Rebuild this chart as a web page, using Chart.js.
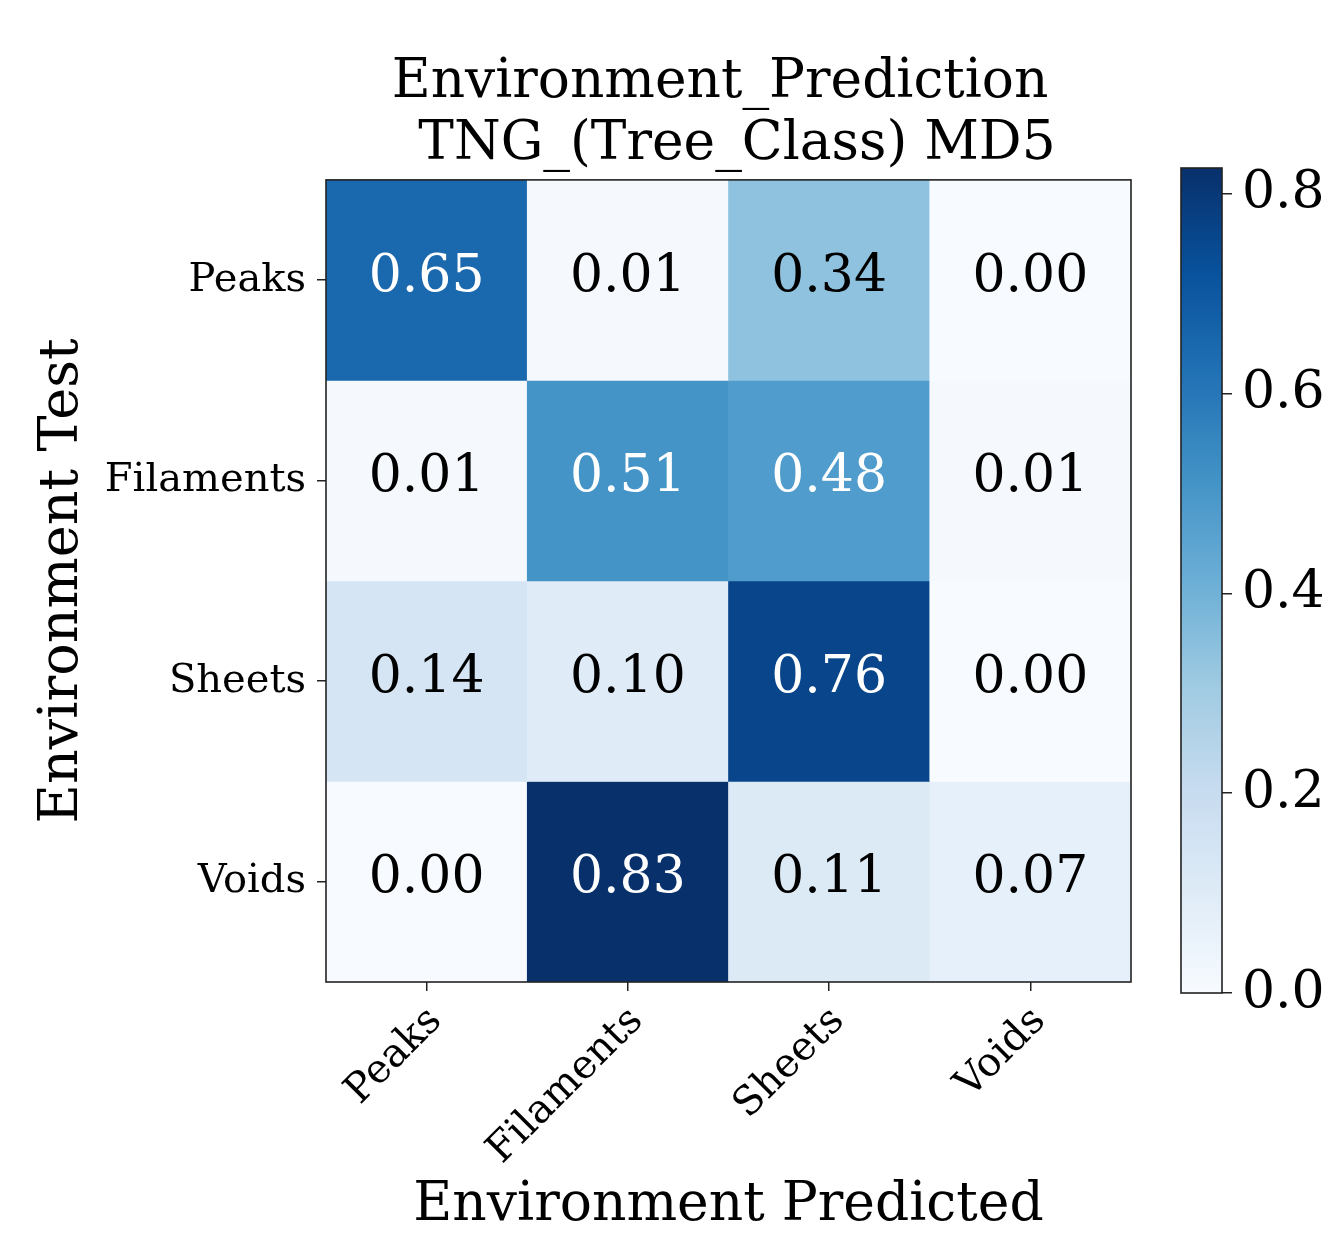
<!DOCTYPE html>
<html><head><meta charset="utf-8">
<script src="https://cdn.jsdelivr.net/npm/chart.js@4.4.1/dist/chart.umd.min.js"></script>
<style>
html,body{margin:0;padding:0;background:#fff;}
#wrap{position:relative;width:1328px;height:1233px;overflow:hidden;}
#main{position:absolute;left:0;top:0;}
#cbar{position:absolute;left:1160px;top:0;}
</style></head><body>
<div id="wrap"><canvas id="main" width="1328" height="1233"></canvas><canvas id="cbar" width="168" height="1233"></canvas></div>
<script>
// ---- data ----
const PRED_LABELS = ['Peaks', 'Filaments', 'Sheets', 'Voids'];   // x (predicted)
const TEST_LABELS = ['Peaks', 'Filaments', 'Sheets', 'Voids'];   // y (test)
const ROW_PEAKS     = [0.65, 0.01, 0.34, 0.00];
const ROW_FILAMENTS = [0.01, 0.51, 0.48, 0.01];
const ROW_SHEETS    = [0.14, 0.10, 0.76, 0.00];
const ROW_VOIDS     = [0.00, 0.83, 0.11, 0.07];
const MATRIX = [ROW_PEAKS, ROW_FILAMENTS, ROW_SHEETS, ROW_VOIDS];
const COLOR_MAX = 0.826;
const CB_TICKS = [0.0, 0.2, 0.4, 0.6, 0.8];
const TITLE_LINES = ['Environment_Prediction ', ' TNG_(Tree_Class) MD5'];

const FAMILY = '"DejaVu Serif", serif';
const BLUES = ['#f7fbff','#deebf7','#c6dbef','#9ecae1','#6baed6','#4292c6','#2171b5','#08519c','#08306b'];
function hex2rgb(h){return [parseInt(h.slice(1,3),16),parseInt(h.slice(3,5),16),parseInt(h.slice(5,7),16)];}
function blues(t){
  t = Math.max(0, Math.min(1, t));
  const p = t * 8, i = Math.min(7, Math.floor(p)), f = p - i;
  const a = hex2rgb(BLUES[i]), b = hex2rgb(BLUES[i+1]);
  const c = a.map((v,k)=>Math.round(v + (b[k]-v)*f));
  return `rgb(${c[0]},${c[1]},${c[2]})`;
}

const framePlugin = {
  id: 'frame',
  afterDraw(chart){
    const {ctx, chartArea:a} = chart;
    ctx.save(); ctx.strokeStyle = '#222'; ctx.lineWidth = 1.6;
    ctx.strokeRect(a.left, a.top, a.right - a.left, a.bottom - a.top);
    ctx.restore();
  }
};
const cellTextPlugin = {
  id: 'cellText',
  afterDatasetsDraw(chart){
    const ctx = chart.ctx;
    ctx.save();
    ctx.font = `52px ${FAMILY}`; ctx.textAlign = 'center'; ctx.textBaseline = 'middle';
    chart.data.datasets.forEach((ds, di) => {
      chart.getDatasetMeta(di).data.forEach((el, i) => {
        const v = ds.values[i];
        const c = el.getCenterPoint();
        ctx.fillStyle = v > COLOR_MAX / 2 ? '#ffffff' : '#000000';
        ctx.fillText(v.toFixed(2), c.x, c.y - 3);
      });
    });
    ctx.restore();
  }
};

new Chart(document.getElementById('main'), {
  type: 'bar',
  data: {
    labels: PRED_LABELS,
    datasets: TEST_LABELS.map((name, r) => ({
      label: name,
      data: PRED_LABELS.map(() => [r, r + 1]),
      values: MATRIX[r],
      backgroundColor: MATRIX[r].map(v => blues(v / COLOR_MAX)),
      borderWidth: 0,
      barPercentage: 1,
      categoryPercentage: 1
    }))
  },
  options: {
    responsive: false, animation: false,
    layout: { padding: { left: 0, right: 197, top: 0, bottom: 0 } },
    plugins: {
      legend: { display: false }, tooltip: { enabled: false },
      title: { display: true, text: TITLE_LINES, fullSize: false, color: '#000',
        font: { family: FAMILY, size: 53.4, weight: 'normal', lineHeight: 1.16 },
        padding: { top: 52, bottom: 4 } }
    },
    scales: {
      x: {
        type: 'category', offset: true, stacked: true,
        grid: { display: true, drawOnChartArea: false, drawTicks: true, tickLength: 9, offset: false, color: '#222', lineWidth: 1.5 },
        border: { display: false },
        ticks: { font: { family: FAMILY, size: 40 }, color: '#000', minRotation: 45, maxRotation: 45, autoSkip: false, padding: 7, labelOffset: 9 },
        title: { display: true, text: 'Environment Predicted', color: '#000', font: { family: FAMILY, size: 53.5 }, padding: { top: 0, bottom: -5 } },
        afterFit(s){ s.height = 251; }
      },
      y: {
        type: 'linear', min: 0, max: TEST_LABELS.length, reverse: true, stacked: false,
        afterBuildTicks(s){ s.ticks = TEST_LABELS.map((_, i) => ({ value: i + 0.5 })); },
        grid: { display: true, drawOnChartArea: false, drawTicks: true, tickLength: 9, color: '#222', lineWidth: 1.5 },
        border: { display: false },
        ticks: { font: { family: FAMILY, size: 40 }, color: '#000', padding: 11, callback: v => TEST_LABELS[Math.floor(v)] },
        title: { display: true, text: 'Environment Test', color: '#000', font: { family: FAMILY, size: 54 }, padding: { top: 31, bottom: 0 } },
        afterFit(s){ s.width = 326; }
      }
    }
  },
  plugins: [cellTextPlugin, framePlugin]
});

new Chart(document.getElementById('cbar'), {
  type: 'bar',
  data: {
    labels: [''],
    datasets: [{
      data: [[0, COLOR_MAX]],
      borderWidth: 0, barPercentage: 1, categoryPercentage: 1,
      backgroundColor(ctx){
        const chart = ctx.chart; const y = chart.scales.y;
        if (!chart.chartArea || !y) return BLUES[4];
        const y0 = y.getPixelForValue(0), y1 = y.getPixelForValue(COLOR_MAX);
        const g = chart.ctx.createLinearGradient(0, y0, 0, y1);
        BLUES.forEach((c, i) => g.addColorStop(i / (BLUES.length - 1), c));
        return g;
      }
    }]
  },
  options: {
    responsive: false, animation: false,
    layout: { padding: { left: 21, right: 0, top: 168, bottom: 240 } },
    plugins: { legend: { display: false }, tooltip: { enabled: false } },
    scales: {
      x: { display: false, offset: true },
      y: {
        position: 'right', min: 0, max: COLOR_MAX,
        afterBuildTicks(s){ s.ticks = CB_TICKS.map(v => ({ value: v })); },
        grid: { display: true, drawOnChartArea: false, drawTicks: true, tickLength: 10, color: '#222', lineWidth: 1.5 },
        border: { display: false },
        ticks: { font: { family: FAMILY, size: 52 }, color: '#000', padding: 10, callback: v => v.toFixed(1) },
        afterFit(s){ s.width = 106; }
      }
    }
  },
  plugins: [framePlugin]
});
</script>
</body></html>
